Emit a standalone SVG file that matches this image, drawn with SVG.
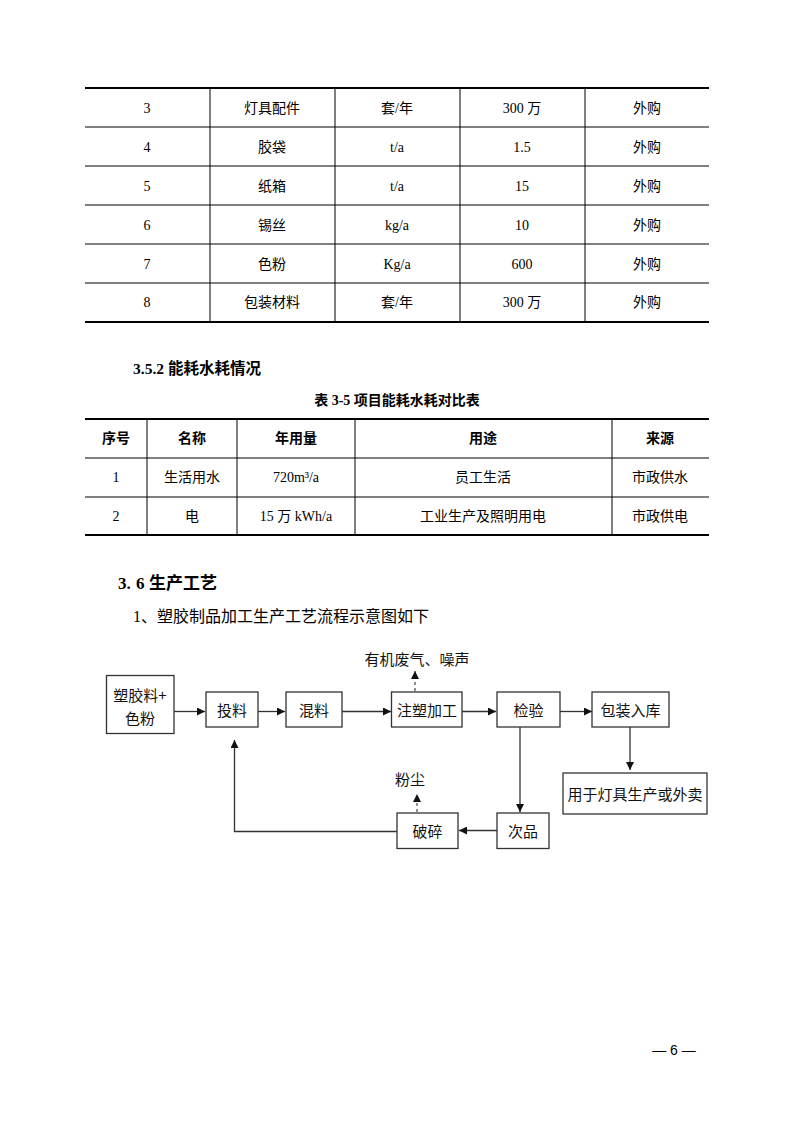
<svg xmlns="http://www.w3.org/2000/svg" width="794" height="1123" viewBox="0 0 794 1123">
<style>
.bg{fill:#fff}
.thick{stroke:#000;stroke-width:2;fill:none}
.thin{stroke:#000;stroke-width:1;fill:none}
.t{font-family:"Liberation Serif","Noto Sans CJK SC",serif;font-size:14px;text-anchor:middle;dominant-baseline:central;fill:#000}
.b{font-weight:bold}
.h{font-family:"Liberation Serif","Noto Sans CJK SC",serif;font-weight:bold;fill:#000}
.p{font-family:"Liberation Serif","Noto Sans CJK SC",serif;font-size:16px;fill:#000}
.box{fill:#fff;stroke:#333;stroke-width:1.3}
.ft{font-family:"Noto Sans CJK SC",sans-serif;font-size:15px;text-anchor:middle;dominant-baseline:central;fill:#111}
.ln{stroke:#333;stroke-width:1.3;fill:none}
.dash{stroke:#555;stroke-width:1.3;fill:none;stroke-dasharray:3 3}
</style>
<defs>
<marker id="ah" viewBox="0 0 10 10" refX="10" refY="5" markerWidth="8" markerHeight="8" markerUnits="userSpaceOnUse" orient="auto">
<path d="M0,0 L10,5 L0,10 z" fill="#111"/>
</marker>
</defs>
<rect class="bg" x="0" y="0" width="794" height="1123"/>

<g id="table1">
<line class="thick" x1="85" y1="88" x2="709" y2="88"/>
<line class="thin" x1="85" y1="127" x2="709" y2="127"/>
<line class="thin" x1="85" y1="166" x2="709" y2="166"/>
<line class="thin" x1="85" y1="205" x2="709" y2="205"/>
<line class="thin" x1="85" y1="244" x2="709" y2="244"/>
<line class="thin" x1="85" y1="283" x2="709" y2="283"/>
<line class="thick" x1="85" y1="322" x2="709" y2="322"/>
<line class="thin" x1="210" y1="88" x2="210" y2="322"/>
<line class="thin" x1="335" y1="88" x2="335" y2="322"/>
<line class="thin" x1="460" y1="88" x2="460" y2="322"/>
<line class="thin" x1="585" y1="88" x2="585" y2="322"/>
<text class="t" x="147" y="108">3</text><text class="t" x="272" y="108">灯具配件</text><text class="t" x="397" y="108">套/年</text><text class="t" x="522" y="108">300 万</text><text class="t" x="647" y="108">外购</text>
<text class="t" x="147" y="147">4</text><text class="t" x="272" y="147">胶袋</text><text class="t" x="397" y="147">t/a</text><text class="t" x="522" y="147">1.5</text><text class="t" x="647" y="147">外购</text>
<text class="t" x="147" y="186">5</text><text class="t" x="272" y="186">纸箱</text><text class="t" x="397" y="186">t/a</text><text class="t" x="522" y="186">15</text><text class="t" x="647" y="186">外购</text>
<text class="t" x="147" y="225">6</text><text class="t" x="272" y="225">锡丝</text><text class="t" x="397" y="225">kg/a</text><text class="t" x="522" y="225">10</text><text class="t" x="647" y="225">外购</text>
<text class="t" x="147" y="264">7</text><text class="t" x="272" y="264">色粉</text><text class="t" x="397" y="264">Kg/a</text><text class="t" x="522" y="264">600</text><text class="t" x="647" y="264">外购</text>
<text class="t" x="147" y="302">8</text><text class="t" x="272" y="302">包装材料</text><text class="t" x="397" y="302">套/年</text><text class="t" x="522" y="302">300 万</text><text class="t" x="647" y="302">外购</text>
</g>

<text class="h" x="133" y="374" font-size="15.5">3.5.2 能耗水耗情况</text>
<text class="h" x="397" y="405" font-size="14" text-anchor="middle">表 3-5  项目能耗水耗对比表</text>

<g id="table2">
<line class="thick" x1="85" y1="419" x2="709" y2="419"/>
<line class="thin" x1="85" y1="458" x2="709" y2="458"/>
<line class="thin" x1="85" y1="497" x2="709" y2="497"/>
<line class="thick" x1="85" y1="535" x2="709" y2="535"/>
<line class="thin" x1="147" y1="419" x2="147" y2="535"/>
<line class="thin" x1="237" y1="419" x2="237" y2="535"/>
<line class="thin" x1="355" y1="419" x2="355" y2="535"/>
<line class="thin" x1="612" y1="419" x2="612" y2="535"/>
<text class="t b" x="116" y="438">序号</text><text class="t b" x="192" y="438">名称</text><text class="t b" x="296" y="438">年用量</text><text class="t b" x="483" y="438">用途</text><text class="t b" x="660" y="438">来源</text>
<text class="t" x="116" y="477">1</text><text class="t" x="192" y="477">生活用水</text><text class="t" x="296" y="477">720m³/a</text><text class="t" x="483" y="477">员工生活</text><text class="t" x="660" y="477">市政供水</text>
<text class="t" x="116" y="516">2</text><text class="t" x="192" y="516">电</text><text class="t" x="296" y="516">15 万 kWh/a</text><text class="t" x="483" y="516">工业生产及照明用电</text><text class="t" x="660" y="516">市政供电</text>
</g>

<text class="h" x="118" y="589" font-size="17"><tspan>3.</tspan><tspan x="136">6</tspan><tspan x="149">生产工艺</tspan></text>
<text class="p" x="133" y="622">1、塑胶制品加工生产工艺流程示意图如下</text>

<g id="connectors">
<line class="ln" x1="174" y1="711.5" x2="205" y2="711.5" marker-end="url(#ah)"/>
<line class="ln" x1="258" y1="711.5" x2="285" y2="711.5" marker-end="url(#ah)"/>
<line class="ln" x1="342" y1="711.5" x2="391" y2="711.5" marker-end="url(#ah)"/>
<line class="ln" x1="462" y1="711.5" x2="496" y2="711.5" marker-end="url(#ah)"/>
<line class="ln" x1="560" y1="711.5" x2="592" y2="711.5" marker-end="url(#ah)"/>
<line class="dash" x1="415" y1="691" x2="415" y2="671" marker-end="url(#ah)"/>
<line class="ln" x1="520" y1="727" x2="520" y2="812" marker-end="url(#ah)"/>
<line class="ln" x1="630" y1="727" x2="630" y2="770" marker-end="url(#ah)"/>
<line class="ln" x1="497" y1="830.5" x2="459" y2="830.5" marker-end="url(#ah)"/>
<polyline class="ln" points="397,831.5 234.5,831.5 234.5,740" marker-end="url(#ah)"/>
<line class="dash" x1="417" y1="812" x2="417" y2="794" marker-end="url(#ah)"/>
</g>

<g id="n-raw"><rect class="box" x="106.5" y="675.5" width="67.5" height="58"/><text class="ft" x="140" y="694">塑胶料+</text><text class="ft" x="140" y="717">色粉</text></g>
<g id="n-feed"><rect class="box" x="206" y="692" width="52" height="35"/><text class="ft" x="232" y="709.5">投料</text></g>
<g id="n-mix"><rect class="box" x="286" y="692" width="56" height="35"/><text class="ft" x="314" y="709.5">混料</text></g>
<g id="n-inject"><rect class="box" x="391.5" y="692" width="70.5" height="35"/><text class="ft" x="427" y="709.5">注塑加工</text></g>
<g id="n-inspect"><rect class="box" x="497" y="692" width="63" height="35"/><text class="ft" x="528.5" y="709.5">检验</text></g>
<g id="n-pack"><rect class="box" x="592" y="692" width="77" height="35"/><text class="ft" x="630.5" y="709.5">包装入库</text></g>
<g id="n-use"><rect class="box" x="563" y="773" width="144" height="41"/><text class="ft" x="635" y="793">用于灯具生产或外卖</text></g>
<g id="n-defect"><rect class="box" x="497" y="813" width="52" height="35.5"/><text class="ft" x="523" y="830.5">次品</text></g>
<g id="n-crush"><rect class="box" x="397" y="813" width="61" height="35.5"/><text class="ft" x="427.5" y="830.5">破碎</text></g>
<g id="l-gas"><text class="ft" x="417" y="658">有机废气、噪声</text></g>
<g id="l-dust"><text class="ft" x="410" y="778">粉尘</text></g>

<text x="674" y="1055" font-family="Liberation Sans, Noto Sans CJK SC, sans-serif" font-size="14" text-anchor="middle" fill="#000">— 6 —</text>
</svg>
